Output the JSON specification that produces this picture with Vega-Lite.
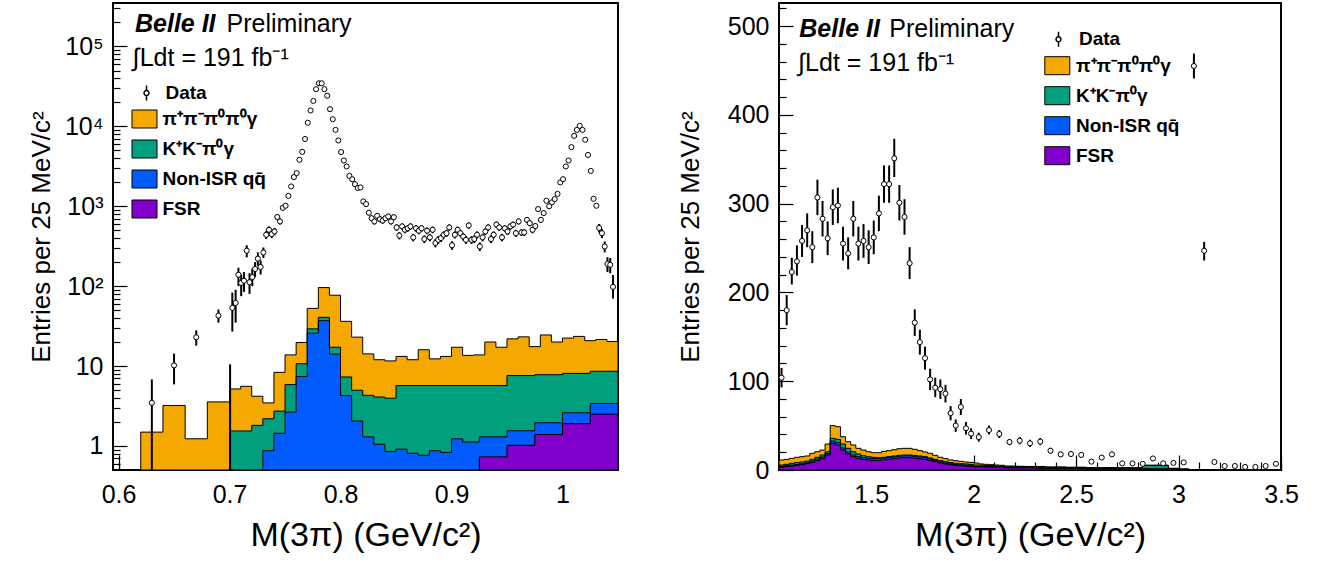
{
"$schema":"https://vega.github.io/schema/vega-lite/v6.json",
"background":"white",
"padding":{"left":27,"right":0,"top":2,"bottom":0},
"spacing":57,
"config":{
 "font":"Liberation Sans",
 "view":{"stroke":"black","strokeWidth":2},
 "axis":{"domain":false,"grid":false,"tickColor":"black","tickWidth":1.2,"labelColor":"black","titleColor":"black","labelFont":"Liberation Sans","titleFont":"Liberation Sans","labelFontSize":25,"titleFontWeight":"normal","labelFlush":false,"labelOverlap":false},
 "legend":{"labelFont":"Liberation Sans","labelColor":"black","labelFontSize":19,"labelFontWeight":"bold","padding":0,"rowPadding":7,"direction":"vertical","orient":"none"}
},
"datasets":{
 "leftStack":[
  {"comp":"pp","x":0.62,"y":1.49},{"comp":"pp","x":0.64,"y":3.21},{"comp":"pp","x":0.66,"y":1.23},{"comp":"pp","x":0.68,"y":3.56},{"comp":"pp","x":0.70,"y":5.17},{"comp":"pp","x":0.71,"y":5.58},{"comp":"pp","x":0.72,"y":4.19},{"comp":"pp","x":0.73,"y":3.46},{"comp":"pp","x":0.74,"y":8.34},{"comp":"pp","x":0.75,"y":13.8},{"comp":"pp","x":0.76,"y":19.7},{"comp":"pp","x":0.77,"y":52.7},{"comp":"pp","x":0.78,"y":96},{"comp":"pp","x":0.79,"y":77},{"comp":"pp","x":0.80,"y":36.3},{"comp":"pp","x":0.81,"y":23},{"comp":"pp","x":0.82,"y":14.2},{"comp":"pp","x":0.83,"y":12.0},{"comp":"pp","x":0.84,"y":11.6},{"comp":"pp","x":0.85,"y":13.2},{"comp":"pp","x":0.86,"y":12.0},{"comp":"pp","x":0.87,"y":16},{"comp":"pp","x":0.88,"y":12.3},{"comp":"pp","x":0.89,"y":13.2},{"comp":"pp","x":0.90,"y":17.2},{"comp":"pp","x":0.91,"y":13.6},{"comp":"pp","x":0.92,"y":13.8},{"comp":"pp","x":0.93,"y":20},{"comp":"pp","x":0.94,"y":17.2},{"comp":"pp","x":0.95,"y":21.9},{"comp":"pp","x":0.96,"y":23.2},{"comp":"pp","x":0.97,"y":17.5},{"comp":"pp","x":0.98,"y":24.5},{"comp":"pp","x":0.99,"y":20},{"comp":"pp","x":1.00,"y":22.4},{"comp":"pp","x":1.01,"y":23.5},{"comp":"pp","x":1.02,"y":20.8},{"comp":"pp","x":1.03,"y":21.5},{"comp":"pp","x":1.04,"y":20.3},{"comp":"pp","x":1.05,"y":20.3},
  {"comp":"kk","x":0.70,"y":1.54},{"comp":"kk","x":0.72,"y":1.81},{"comp":"kk","x":0.73,"y":2.19},{"comp":"kk","x":0.74,"y":2.73},{"comp":"kk","x":0.75,"y":5.86},{"comp":"kk","x":0.76,"y":10.7},{"comp":"kk","x":0.77,"y":29.2},{"comp":"kk","x":0.78,"y":40.7},{"comp":"kk","x":0.79,"y":17.2},{"comp":"kk","x":0.80,"y":7.3},{"comp":"kk","x":0.81,"y":4.98},{"comp":"kk","x":0.82,"y":4.3},{"comp":"kk","x":0.83,"y":4.1},{"comp":"kk","x":0.84,"y":3.96},{"comp":"kk","x":0.85,"y":5.7},{"comp":"kk","x":0.95,"y":7.6},{"comp":"kk","x":0.975,"y":7.8},{"comp":"kk","x":1.0,"y":8.1},{"comp":"kk","x":1.025,"y":8.6},{"comp":"kk","x":1.05,"y":8.6},
  {"comp":"qq","x":0.73,"y":0.87},{"comp":"qq","x":0.74,"y":1.44},{"comp":"qq","x":0.75,"y":2.65},{"comp":"qq","x":0.76,"y":7.4},{"comp":"qq","x":0.77,"y":25.8},{"comp":"qq","x":0.78,"y":37},{"comp":"qq","x":0.79,"y":14.1},{"comp":"qq","x":0.80,"y":4.27},{"comp":"qq","x":0.81,"y":2.05},{"comp":"qq","x":0.82,"y":1.3},{"comp":"qq","x":0.83,"y":1.05},{"comp":"qq","x":0.84,"y":0.85},{"comp":"qq","x":0.85,"y":0.91},{"comp":"qq","x":0.86,"y":0.81},{"comp":"qq","x":0.87,"y":0.765},{"comp":"qq","x":0.88,"y":0.87},{"comp":"qq","x":0.89,"y":0.83},{"comp":"qq","x":0.90,"y":1.23},{"comp":"qq","x":0.91,"y":1.12},{"comp":"qq","x":0.925,"y":1.3},{"comp":"qq","x":0.95,"y":1.55},{"comp":"qq","x":0.975,"y":1.95},{"comp":"qq","x":1.0,"y":2.6},{"comp":"qq","x":1.025,"y":3.4},{"comp":"qq","x":1.05,"y":3.4},
  {"comp":"fsr","x":0.925,"y":0.73},{"comp":"fsr","x":0.95,"y":1.02},{"comp":"fsr","x":0.975,"y":1.39},{"comp":"fsr","x":1.0,"y":1.9},{"comp":"fsr","x":1.025,"y":2.5},{"comp":"fsr","x":1.05,"y":2.5}
 ],
 "leftData":[
  {"x":0.630,"y":3.47,"lo":0.5,"hi":6.8},{"x":0.650,"y":10.2,"lo":5.9,"hi":14.3},{"x":0.670,"y":22.9,"lo":18,"hi":28},{"x":0.690,"y":42.8,"lo":35,"hi":51},{"x":0.7005,"y":0.3,"lo":0.1,"hi":10.5},{"x":0.7025,"y":53.5,"lo":27,"hi":83},{"x":0.7055,"y":61.7,"lo":35,"hi":90},{"x":0.708,"y":139,"lo":100,"hi":170},{"x":0.7105,"y":110,"lo":75,"hi":140},{"x":0.713,"y":117,"lo":85,"hi":150},{"x":0.7155,"y":278,"lo":230,"hi":325},{"x":0.718,"y":112,"lo":80,"hi":145},{"x":0.7205,"y":130,"lo":100,"hi":165},{"x":0.723,"y":164,"lo":130,"hi":200},{"x":0.7255,"y":221,"lo":180,"hi":265},{"x":0.728,"y":174,"lo":140,"hi":210},{"x":0.7305,"y":264,"lo":225,"hi":305},{"x":0.733,"y":440,"lo":390,"hi":490},{"x":0.7355,"y":508,"lo":455,"hi":560},{"x":0.738,"y":448,"lo":400,"hi":500},{"x":0.7405,"y":484,"lo":435,"hi":535},{"x":0.743,"y":733,"lo":670,"hi":795},{"x":0.7455,"y":646,"lo":590,"hi":705},{"x":0.748,"y":955,"lo":890,"hi":1020},{"x":0.7505,"y":1015,"lo":950,"hi":1080},
  {"x":0.753,"y":1350,"lo":1280,"hi":1420},{"x":0.7555,"y":1770,"lo":1690,"hi":1850},{"x":0.758,"y":2320,"lo":2230,"hi":2410},{"x":0.7605,"y":2600,"lo":2500,"hi":2700},{"x":0.763,"y":3820,"lo":3700,"hi":3940},{"x":0.7655,"y":4800,"lo":4660,"hi":4940},{"x":0.768,"y":6950,"lo":6780,"hi":7120},{"x":0.7705,"y":11100,"lo":10900,"hi":11300},{"x":0.773,"y":15800,"lo":15550,"hi":16050},{"x":0.7755,"y":20800,"lo":20500,"hi":21100},{"x":0.778,"y":29200,"lo":28850,"hi":29550},{"x":0.7805,"y":34600,"lo":34200,"hi":35000},{"x":0.783,"y":34600,"lo":34200,"hi":35000},{"x":0.7855,"y":29200,"lo":28850,"hi":29550},{"x":0.788,"y":24200,"lo":23850,"hi":24550},{"x":0.7905,"y":16400,"lo":16150,"hi":16650},{"x":0.793,"y":12300,"lo":12080,"hi":12520},{"x":0.7955,"y":9040,"lo":8850,"hi":9230},{"x":0.798,"y":6660,"lo":6490,"hi":6830},{"x":0.8005,"y":4770,"lo":4630,"hi":4910},{"x":0.803,"y":3740,"lo":3620,"hi":3860},{"x":0.8055,"y":3150,"lo":3040,"hi":3260},{"x":0.808,"y":2400,"lo":2300,"hi":2500},{"x":0.8105,"y":2180,"lo":2090,"hi":2270},{"x":0.813,"y":1890,"lo":1800,"hi":1980},{"x":0.8155,"y":1690,"lo":1610,"hi":1770},{"x":0.818,"y":1720,"lo":1640,"hi":1800},{"x":0.8205,"y":1150,"lo":1080,"hi":1220},{"x":0.823,"y":1065,"lo":1000,"hi":1130},
  {"x":0.8255,"y":830,"lo":770,"hi":890},{"x":0.828,"y":708,"lo":650,"hi":766},{"x":0.8305,"y":646,"lo":590,"hi":702},{"x":0.833,"y":760,"lo":700,"hi":820},{"x":0.8355,"y":690,"lo":632,"hi":748},{"x":0.838,"y":662,"lo":605,"hi":719},{"x":0.8405,"y":708,"lo":650,"hi":766},{"x":0.843,"y":745,"lo":686,"hi":804},{"x":0.8455,"y":646,"lo":590,"hi":702},{"x":0.848,"y":730,"lo":671,"hi":789},{"x":0.8505,"y":543,"lo":492,"hi":594},{"x":0.853,"y":430,"lo":385,"hi":475},{"x":0.8555,"y":560,"lo":508,"hi":612},{"x":0.858,"y":508,"lo":459,"hi":557},{"x":0.8605,"y":530,"lo":480,"hi":580},{"x":0.863,"y":560,"lo":508,"hi":612},{"x":0.8655,"y":408,"lo":364,"hi":452},{"x":0.868,"y":530,"lo":480,"hi":580},{"x":0.8705,"y":494,"lo":446,"hi":542},{"x":0.873,"y":530,"lo":480,"hi":580},{"x":0.8755,"y":389,"lo":346,"hi":432},{"x":0.878,"y":494,"lo":446,"hi":542},{"x":0.8805,"y":408,"lo":364,"hi":452},{"x":0.883,"y":508,"lo":459,"hi":557},{"x":0.8855,"y":347,"lo":306,"hi":388},{"x":0.888,"y":380,"lo":338,"hi":422},{"x":0.8905,"y":400,"lo":357,"hi":443},{"x":0.893,"y":440,"lo":395,"hi":485},{"x":0.8955,"y":460,"lo":414,"hi":506},{"x":0.898,"y":543,"lo":492,"hi":594},{"x":0.9005,"y":325,"lo":285,"hi":365},{"x":0.903,"y":440,"lo":395,"hi":485},{"x":0.9055,"y":508,"lo":459,"hi":557},{"x":0.908,"y":460,"lo":414,"hi":506},{"x":0.9105,"y":418,"lo":374,"hi":462},{"x":0.913,"y":380,"lo":338,"hi":422},{"x":0.9155,"y":575,"lo":523,"hi":627},{"x":0.918,"y":380,"lo":338,"hi":422},{"x":0.9205,"y":389,"lo":346,"hi":432},{"x":0.923,"y":440,"lo":395,"hi":485},{"x":0.9255,"y":314,"lo":275,"hi":353},{"x":0.928,"y":408,"lo":364,"hi":452},{"x":0.9305,"y":484,"lo":437,"hi":531},{"x":0.933,"y":543,"lo":492,"hi":594},{"x":0.9355,"y":389,"lo":346,"hi":432},{"x":0.938,"y":440,"lo":395,"hi":485},{"x":0.9405,"y":590,"lo":537,"hi":643},{"x":0.943,"y":543,"lo":492,"hi":594},{"x":0.9455,"y":408,"lo":364,"hi":452},{"x":0.948,"y":530,"lo":480,"hi":580},{"x":0.9505,"y":484,"lo":437,"hi":531},{"x":0.953,"y":560,"lo":508,"hi":612},{"x":0.9555,"y":590,"lo":537,"hi":643},{"x":0.958,"y":460,"lo":414,"hi":506},{"x":0.9605,"y":646,"lo":590,"hi":702},{"x":0.963,"y":470,"lo":424,"hi":516},{"x":0.9655,"y":470,"lo":424,"hi":516},{"x":0.968,"y":676,"lo":619,"hi":733},{"x":0.9705,"y":615,"lo":561,"hi":669},{"x":0.973,"y":508,"lo":459,"hi":557},{"x":0.9755,"y":565,"lo":513,"hi":617},{"x":0.978,"y":922,"lo":855,"hi":989},{"x":0.9805,"y":676,"lo":619,"hi":733},{"x":0.983,"y":822,"lo":760,"hi":884},
  {"x":0.9855,"y":1170,"lo":1100,"hi":1240},{"x":0.988,"y":1000,"lo":935,"hi":1065},{"x":0.9905,"y":1120,"lo":1050,"hi":1190},{"x":0.993,"y":1230,"lo":1160,"hi":1300},{"x":0.9955,"y":1430,"lo":1355,"hi":1505},{"x":0.998,"y":1990,"lo":1900,"hi":2080},{"x":1.0005,"y":2180,"lo":2090,"hi":2270},{"x":1.003,"y":3150,"lo":3040,"hi":3260},{"x":1.0055,"y":3740,"lo":3620,"hi":3860},{"x":1.008,"y":5500,"lo":5350,"hi":5650},{"x":1.0105,"y":7610,"lo":7430,"hi":7790},{"x":1.013,"y":9040,"lo":8850,"hi":9230},{"x":1.0155,"y":10150,"lo":9950,"hi":10350},{"x":1.018,"y":9040,"lo":8850,"hi":9230},{"x":1.0205,"y":6800,"lo":6630,"hi":6970},{"x":1.023,"y":4390,"lo":4260,"hi":4520},{"x":1.0255,"y":2770,"lo":2670,"hi":2870},{"x":1.028,"y":1240,"lo":1170,"hi":1310},{"x":1.0305,"y":1015,"lo":950,"hi":1080},{"x":1.033,"y":536,"lo":470,"hi":600},{"x":1.0355,"y":460,"lo":400,"hi":520},{"x":1.038,"y":314,"lo":265,"hi":363},{"x":1.0405,"y":190,"lo":150,"hi":230},{"x":1.043,"y":185,"lo":145,"hi":225},{"x":1.0455,"y":98,"lo":70,"hi":138}
 ],
 "rightStack":[
  {"comp":"pp","x":1.05,"y":11.3},{"comp":"pp","x":1.075,"y":12},{"comp":"pp","x":1.1,"y":13.1},{"comp":"pp","x":1.125,"y":14.3},{"comp":"pp","x":1.15,"y":15},{"comp":"pp","x":1.175,"y":15.8},{"comp":"pp","x":1.2,"y":18.8},{"comp":"pp","x":1.225,"y":20.6},{"comp":"pp","x":1.25,"y":22.5},{"comp":"pp","x":1.275,"y":29.3},{"comp":"pp","x":1.3,"y":50},{"comp":"pp","x":1.325,"y":48.8},{"comp":"pp","x":1.35,"y":37.5},{"comp":"pp","x":1.375,"y":31.9},{"comp":"pp","x":1.4,"y":28.2},{"comp":"pp","x":1.425,"y":24.4},{"comp":"pp","x":1.45,"y":22.5},{"comp":"pp","x":1.475,"y":20.6},{"comp":"pp","x":1.5,"y":19.5},{"comp":"pp","x":1.525,"y":19.5},{"comp":"pp","x":1.55,"y":21},{"comp":"pp","x":1.575,"y":21.8},{"comp":"pp","x":1.6,"y":22.9},{"comp":"pp","x":1.625,"y":24},{"comp":"pp","x":1.65,"y":24.4},{"comp":"pp","x":1.675,"y":24.4},{"comp":"pp","x":1.7,"y":23.3},{"comp":"pp","x":1.725,"y":21.8},{"comp":"pp","x":1.75,"y":20.3},{"comp":"pp","x":1.775,"y":18.8},{"comp":"pp","x":1.8,"y":16.5},{"comp":"pp","x":1.825,"y":14.3},{"comp":"pp","x":1.85,"y":12.8},{"comp":"pp","x":1.875,"y":11.3},{"comp":"pp","x":1.9,"y":10.5},{"comp":"pp","x":1.925,"y":9.8},{"comp":"pp","x":1.95,"y":9},{"comp":"pp","x":1.975,"y":8.6},{"comp":"pp","x":2.0,"y":7.9},{"comp":"pp","x":2.025,"y":6.8},{"comp":"pp","x":2.05,"y":6.4},{"comp":"pp","x":2.075,"y":6},{"comp":"pp","x":2.1,"y":5.6},{"comp":"pp","x":2.125,"y":5.3},{"comp":"pp","x":2.15,"y":4.5},{"comp":"pp","x":2.2,"y":4.2},{"comp":"pp","x":2.25,"y":4},{"comp":"pp","x":2.35,"y":3.5},{"comp":"pp","x":2.45,"y":3},{"comp":"pp","x":2.55,"y":2.6},{"comp":"pp","x":2.7,"y":2.3},{"comp":"pp","x":2.825,"y":5.5},{"comp":"pp","x":2.95,"y":2},{"comp":"pp","x":3.0,"y":1.2},{"comp":"pp","x":3.05,"y":0},
  {"comp":"kk","x":1.05,"y":5.6},{"comp":"kk","x":1.075,"y":6.4},{"comp":"kk","x":1.1,"y":7.5},{"comp":"kk","x":1.125,"y":8.3},{"comp":"kk","x":1.15,"y":9},{"comp":"kk","x":1.175,"y":10.1},{"comp":"kk","x":1.2,"y":12},{"comp":"kk","x":1.225,"y":14.3},{"comp":"kk","x":1.25,"y":16.9},{"comp":"kk","x":1.275,"y":20.6},{"comp":"kk","x":1.3,"y":35.6},{"comp":"kk","x":1.325,"y":34.5},{"comp":"kk","x":1.35,"y":29.3},{"comp":"kk","x":1.375,"y":24.4},{"comp":"kk","x":1.4,"y":20.6},{"comp":"kk","x":1.425,"y":18},{"comp":"kk","x":1.45,"y":16.1},{"comp":"kk","x":1.475,"y":15},{"comp":"kk","x":1.5,"y":14.3},{"comp":"kk","x":1.525,"y":13.9},{"comp":"kk","x":1.55,"y":14.3},{"comp":"kk","x":1.575,"y":15},{"comp":"kk","x":1.6,"y":15.8},{"comp":"kk","x":1.625,"y":16.5},{"comp":"kk","x":1.65,"y":16.9},{"comp":"kk","x":1.675,"y":16.9},{"comp":"kk","x":1.7,"y":16.5},{"comp":"kk","x":1.725,"y":15.8},{"comp":"kk","x":1.75,"y":15},{"comp":"kk","x":1.775,"y":13.5},{"comp":"kk","x":1.8,"y":12},{"comp":"kk","x":1.825,"y":10.5},{"comp":"kk","x":1.85,"y":9.4},{"comp":"kk","x":1.875,"y":8.3},{"comp":"kk","x":1.9,"y":7.5},{"comp":"kk","x":1.925,"y":7.1},{"comp":"kk","x":1.95,"y":6.8},{"comp":"kk","x":1.975,"y":6.4},{"comp":"kk","x":2.0,"y":5.6},{"comp":"kk","x":2.05,"y":5},{"comp":"kk","x":2.1,"y":4.5},{"comp":"kk","x":2.15,"y":3.8},{"comp":"kk","x":2.25,"y":3.4},{"comp":"kk","x":2.35,"y":3},{"comp":"kk","x":2.55,"y":2.6},{"comp":"kk","x":2.825,"y":5},{"comp":"kk","x":2.95,"y":1.5},{"comp":"kk","x":3.0,"y":1},{"comp":"kk","x":3.05,"y":0},
  {"comp":"qq","x":1.05,"y":4},{"comp":"qq","x":1.075,"y":4.8},{"comp":"qq","x":1.1,"y":5.5},{"comp":"qq","x":1.125,"y":6.3},{"comp":"qq","x":1.15,"y":7},{"comp":"qq","x":1.175,"y":8.1},{"comp":"qq","x":1.2,"y":10.2},{"comp":"qq","x":1.225,"y":12.3},{"comp":"qq","x":1.25,"y":14.6},{"comp":"qq","x":1.275,"y":18.7},{"comp":"qq","x":1.3,"y":32.5},{"comp":"qq","x":1.325,"y":30.8},{"comp":"qq","x":1.35,"y":24.8},{"comp":"qq","x":1.375,"y":20.2},{"comp":"qq","x":1.4,"y":17},{"comp":"qq","x":1.425,"y":15},{"comp":"qq","x":1.45,"y":14},{"comp":"qq","x":1.475,"y":13.2},{"comp":"qq","x":1.5,"y":12.8},{"comp":"qq","x":1.525,"y":12.8},{"comp":"qq","x":1.55,"y":13.3},{"comp":"qq","x":1.575,"y":14},{"comp":"qq","x":1.6,"y":14.8},{"comp":"qq","x":1.625,"y":15.5},{"comp":"qq","x":1.65,"y":15.9},{"comp":"qq","x":1.675,"y":15.9},{"comp":"qq","x":1.7,"y":15.5},{"comp":"qq","x":1.725,"y":14.8},{"comp":"qq","x":1.75,"y":14},{"comp":"qq","x":1.775,"y":12.6},{"comp":"qq","x":1.8,"y":10.9},{"comp":"qq","x":1.825,"y":9.1},{"comp":"qq","x":1.85,"y":7.9},{"comp":"qq","x":1.875,"y":7},{"comp":"qq","x":1.9,"y":6.3},{"comp":"qq","x":1.925,"y":5.8},{"comp":"qq","x":1.95,"y":5.3},{"comp":"qq","x":1.975,"y":4.9},{"comp":"qq","x":2.0,"y":4.2},{"comp":"qq","x":2.05,"y":3.9},{"comp":"qq","x":2.15,"y":3},{"comp":"qq","x":2.3,"y":2.5},{"comp":"qq","x":2.55,"y":1.8},{"comp":"qq","x":2.8,"y":1.5},{"comp":"qq","x":3.0,"y":0.8},{"comp":"qq","x":3.05,"y":0},
  {"comp":"fsr","x":1.05,"y":3},{"comp":"fsr","x":1.075,"y":3.8},{"comp":"fsr","x":1.1,"y":4.5},{"comp":"fsr","x":1.125,"y":5.3},{"comp":"fsr","x":1.15,"y":6},{"comp":"fsr","x":1.175,"y":7.1},{"comp":"fsr","x":1.2,"y":8.6},{"comp":"fsr","x":1.225,"y":10.5},{"comp":"fsr","x":1.25,"y":12.8},{"comp":"fsr","x":1.275,"y":16.9},{"comp":"fsr","x":1.3,"y":30},{"comp":"fsr","x":1.325,"y":28.2},{"comp":"fsr","x":1.35,"y":22.5},{"comp":"fsr","x":1.375,"y":18},{"comp":"fsr","x":1.4,"y":15},{"comp":"fsr","x":1.425,"y":13.1},{"comp":"fsr","x":1.45,"y":12},{"comp":"fsr","x":1.475,"y":11.3},{"comp":"fsr","x":1.5,"y":10.9},{"comp":"fsr","x":1.525,"y":10.9},{"comp":"fsr","x":1.55,"y":11.3},{"comp":"fsr","x":1.575,"y":12},{"comp":"fsr","x":1.6,"y":12.8},{"comp":"fsr","x":1.625,"y":13.5},{"comp":"fsr","x":1.65,"y":13.9},{"comp":"fsr","x":1.675,"y":13.9},{"comp":"fsr","x":1.7,"y":13.5},{"comp":"fsr","x":1.725,"y":12.8},{"comp":"fsr","x":1.75,"y":12},{"comp":"fsr","x":1.775,"y":10.9},{"comp":"fsr","x":1.8,"y":9.4},{"comp":"fsr","x":1.825,"y":7.9},{"comp":"fsr","x":1.85,"y":6.8},{"comp":"fsr","x":1.875,"y":6},{"comp":"fsr","x":1.9,"y":5.3},{"comp":"fsr","x":1.925,"y":4.9},{"comp":"fsr","x":1.95,"y":4.5},{"comp":"fsr","x":1.975,"y":4.1},{"comp":"fsr","x":2.0,"y":3.4},{"comp":"fsr","x":2.05,"y":3.2},{"comp":"fsr","x":2.15,"y":2.3},{"comp":"fsr","x":2.3,"y":1.8},{"comp":"fsr","x":2.55,"y":1.1},{"comp":"fsr","x":2.8,"y":1},{"comp":"fsr","x":3.0,"y":0.5},{"comp":"fsr","x":3.05,"y":0}
 ],
 "rightData":[
  {"x":1.0625,"y":104,"lo":93,"hi":115},{"x":1.0875,"y":180,"lo":163,"hi":197},{"x":1.1125,"y":223,"lo":209,"hi":239},{"x":1.1375,"y":235,"lo":219,"hi":253},{"x":1.1625,"y":258,"lo":240,"hi":276},{"x":1.1875,"y":270,"lo":251,"hi":289},{"x":1.2125,"y":251,"lo":233,"hi":269},{"x":1.2375,"y":307,"lo":287,"hi":327},{"x":1.2625,"y":283,"lo":263,"hi":303},{"x":1.2875,"y":261,"lo":242,"hi":280},{"x":1.3125,"y":296,"lo":276,"hi":316},{"x":1.3375,"y":298,"lo":278,"hi":318},{"x":1.3625,"y":255,"lo":236,"hi":274},{"x":1.3875,"y":244,"lo":226,"hi":262},{"x":1.4125,"y":283,"lo":263,"hi":303},{"x":1.4375,"y":255,"lo":236,"hi":274},{"x":1.4625,"y":258,"lo":239,"hi":277},{"x":1.4875,"y":251,"lo":232,"hi":270},{"x":1.5125,"y":262,"lo":243,"hi":281},{"x":1.5375,"y":289,"lo":269,"hi":309},{"x":1.5625,"y":322,"lo":301,"hi":343},{"x":1.5875,"y":322,"lo":301,"hi":343},{"x":1.6125,"y":351,"lo":330,"hi":373},{"x":1.6375,"y":301,"lo":281,"hi":321},{"x":1.6625,"y":285,"lo":265,"hi":305},{"x":1.6875,"y":233,"lo":215,"hi":251},{"x":1.7125,"y":166,"lo":151,"hi":181},{"x":1.7375,"y":144,"lo":130,"hi":158},{"x":1.7625,"y":126,"lo":113,"hi":139},{"x":1.7875,"y":102,"lo":90,"hi":114},{"x":1.8125,"y":92.7,"lo":82,"hi":104},{"x":1.8375,"y":91,"lo":80,"hi":102},{"x":1.8625,"y":86,"lo":76,"hi":96},{"x":1.8875,"y":64,"lo":56,"hi":72},{"x":1.9125,"y":50,"lo":43,"hi":57},{"x":1.9375,"y":71,"lo":62,"hi":80},{"x":1.9625,"y":47,"lo":40,"hi":54},{"x":1.9875,"y":41,"lo":35,"hi":47},
  {"x":2.025,"y":37,"lo":32,"hi":42},{"x":2.075,"y":45,"lo":40,"hi":50},{"x":2.125,"y":40.6,"lo":36,"hi":45},{"x":2.175,"y":31.5,"lo":28,"hi":35},{"x":2.225,"y":33,"lo":29,"hi":37},{"x":2.275,"y":30,"lo":26,"hi":34},{"x":2.325,"y":32,"lo":28,"hi":36},{"x":2.375,"y":21.7,"lo":18.5,"hi":25},{"x":2.425,"y":17.6,"lo":14.6,"hi":20.6},{"x":2.475,"y":18,"lo":15,"hi":21},{"x":2.525,"y":17,"lo":14,"hi":20},{"x":2.575,"y":9.4,"lo":7,"hi":11.8},{"x":2.625,"y":14,"lo":11.3,"hi":16.7},{"x":2.675,"y":17.6,"lo":14.6,"hi":20.6},{"x":2.725,"y":7.5,"lo":5.3,"hi":9.7},{"x":2.775,"y":7.5,"lo":5.3,"hi":9.7},{"x":2.825,"y":7,"lo":4.9,"hi":9.1},{"x":2.875,"y":13,"lo":10.4,"hi":15.6},{"x":2.925,"y":7.5,"lo":5.3,"hi":9.7},{"x":2.975,"y":8,"lo":5.8,"hi":10.2},{"x":3.025,"y":8.6,"lo":6.3,"hi":10.9},{"x":3.075,"y":455,"lo":441,"hi":469},{"x":3.125,"y":247,"lo":236,"hi":257},{"x":3.175,"y":9,"lo":6.7,"hi":11.3},{"x":3.225,"y":4.5,"lo":2.8,"hi":6.2},{"x":3.275,"y":4.5,"lo":2.8,"hi":6.2},{"x":3.325,"y":3.5,"lo":2,"hi":5},{"x":3.375,"y":3.5,"lo":2,"hi":5},{"x":3.425,"y":4.5,"lo":2.8,"hi":6.2},{"x":3.475,"y":7,"lo":4.9,"hi":9.1}
 ]
},
"resolve":{"scale":{"fill":"independent","stroke":"independent"},"legend":{"fill":"independent","stroke":"independent"}},
"hconcat":[
 {
  "width":505,"height":467,
  "resolve":{"axis":{"x":"independent","y":"independent"}},
  "layer":[
   {"data":{"name":"leftStack"},"transform":[{"filter":"datum.comp === 'pp'"}],
    "mark":{"type":"area","interpolate":"step-after","stroke":"black","strokeWidth":1,"clip":true},
    "encoding":{
     "x":{"field":"x","type":"quantitative","scale":{"domain":[0.595,1.05],"nice":false,"zero":false},
      "axis":{"orient":"bottom","values":[0.6,0.7,0.8,0.9,1.0],"labelExpr":"datum.value > 0.99 ? '1' : format(datum.value, '.1f')","tickSize":-15,"labelPadding":27,"title":"M(3π) (GeV/c²)","titleFontSize":34,"titlePadding":11}},
     "y":{"field":"y","type":"quantitative","scale":{"type":"log","domain":[0.5,350000],"nice":false},
      "axis":{"orient":"left","values":[1,10,100,1000,10000,100000],"labelExpr":"datum.value < 5 ? '1' : datum.value < 50 ? '10' : datum.value < 500 ? '10²' : datum.value < 5000 ? '10³' : datum.value < 50000 ? '10⁴' : '10⁵'","tickSize":-14,"labelPadding":24,"title":"Entries per 25 MeV/c²","titleFontSize":26,"titlePadding":10}},
     "y2":{"datum":0.5},
     "fill":{"field":"comp","type":"nominal","scale":{"domain":["pp","kk","qq","fsr"],"range":["#F5A800","#00A07E","#005CFF","#8200CC"]},
      "legend":{"orient":"none","legendX":22,"legendY":106.5,"title":null,"symbolType":"M-1.39,-1L1.39,-1L1.39,1L-1.39,1Z","symbolSize":324,"symbolStrokeColor":"black","symbolStrokeWidth":1,"symbolOpacity":1,"labelOffset":8.5,"labelExpr":"datum.value === 'pp' ? 'π⁺π⁻π⁰π⁰γ' : datum.value === 'kk' ? 'K⁺K⁻π⁰γ' : datum.value === 'qq' ? 'Non-ISR qq̄' : 'FSR'"}}
    }},
   {"data":{"name":"leftStack"},"transform":[{"filter":"datum.comp === 'kk'"}],
    "mark":{"type":"area","interpolate":"step-after","stroke":"black","strokeWidth":1,"clip":true},
    "encoding":{"x":{"field":"x","type":"quantitative","axis":null},"y":{"field":"y","type":"quantitative","axis":null},"y2":{"datum":0.5},
     "fill":{"field":"comp","type":"nominal","scale":{"domain":["pp","kk","qq","fsr"],"range":["#F5A800","#00A07E","#005CFF","#8200CC"]},"legend":null}}},
   {"data":{"name":"leftStack"},"transform":[{"filter":"datum.comp === 'qq'"}],
    "mark":{"type":"area","interpolate":"step-after","stroke":"black","strokeWidth":1,"clip":true},
    "encoding":{"x":{"field":"x","type":"quantitative","axis":null},"y":{"field":"y","type":"quantitative","axis":null},"y2":{"datum":0.5},
     "fill":{"field":"comp","type":"nominal","scale":{"domain":["pp","kk","qq","fsr"],"range":["#F5A800","#00A07E","#005CFF","#8200CC"]},"legend":null}}},
   {"data":{"name":"leftStack"},"transform":[{"filter":"datum.comp === 'fsr'"}],
    "mark":{"type":"area","interpolate":"step-after","stroke":"black","strokeWidth":1,"clip":true},
    "encoding":{"x":{"field":"x","type":"quantitative","axis":null},"y":{"field":"y","type":"quantitative","axis":null},"y2":{"datum":0.5},
     "fill":{"field":"comp","type":"nominal","scale":{"domain":["pp","kk","qq","fsr"],"range":["#F5A800","#00A07E","#005CFF","#8200CC"]},"legend":null}}},
   {"data":{"name":"leftData"},
    "mark":{"type":"rule","strokeWidth":2,"color":"black","clip":true},
    "encoding":{
     "x":{"field":"x","type":"quantitative","axis":{"orient":"bottom","values":[0.6,0.62,0.64,0.66,0.68,0.7,0.72,0.74,0.76,0.78,0.8,0.82,0.84,0.86,0.88,0.9,0.92,0.94,0.96,0.98,1.0,1.02,1.04],"labels":false,"tickSize":-8,"title":null}},
     "y":{"field":"lo","type":"quantitative","axis":{"orient":"left","values":[0.6,0.7,0.8,0.9,2,3,4,5,6,7,8,9,20,30,40,50,60,70,80,90,200,300,400,500,600,700,800,900,2000,3000,4000,5000,6000,7000,8000,9000,20000,30000,40000,50000,60000,70000,80000,90000,200000,300000],"labels":false,"tickSize":-7,"title":null}},
     "y2":{"field":"hi"}}},
   {"data":{"name":"leftData"},
    "mark":{"type":"point","shape":"circle","filled":false,"fill":"white","fillOpacity":1,"size":26,"strokeWidth":1,"clip":true},
    "encoding":{"x":{"field":"x","type":"quantitative","axis":null},"y":{"field":"y","type":"quantitative","axis":null},
     "stroke":{"datum":"Data","type":"nominal","scale":{"range":["black"]},
      "legend":{"orient":"none","legendX":24,"legendY":80.5,"title":null,"symbolType":"M0,-1L0,-0.36M0,0.36L0,1M0.33,0A0.33,0.33,0,1,1,-0.33,0A0.33,0.33,0,1,1,0.33,0Z","symbolSize":225,"symbolFillColor":"white","symbolStrokeWidth":1.5,"labelOffset":9.5}}}},
   {"data":{"values":[{}]},"mark":{"type":"text","text":"Belle II","fontSize":25,"fontWeight":"bold","fontStyle":"italic","align":"left","baseline":"alphabetic","color":"black"},
    "encoding":{"x":{"datum":0.6148,"type":"quantitative","axis":null},"y":{"datum":149600,"type":"quantitative","axis":null}}},
   {"data":{"values":[{}]},"mark":{"type":"text","text":"Preliminary","fontSize":25,"align":"left","baseline":"alphabetic","color":"black"},
    "encoding":{"x":{"datum":0.6973,"type":"quantitative","axis":null},"y":{"datum":149600,"type":"quantitative","axis":null}}},
   {"data":{"values":[{}]},"mark":{"type":"text","text":"∫Ldt = 191 fb⁻¹","fontSize":25,"align":"left","baseline":"alphabetic","color":"black"},
    "encoding":{"x":{"datum":0.6129,"type":"quantitative","axis":null},"y":{"datum":57000,"type":"quantitative","axis":null}}}
  ]
 },
 {
  "width":502,"height":467,
  "resolve":{"axis":{"x":"independent","y":"independent"}},
  "layer":[
   {"data":{"name":"rightStack"},"transform":[{"filter":"datum.comp === 'pp'"}],
    "mark":{"type":"area","interpolate":"step-after","stroke":"black","strokeWidth":1,"clip":true},
    "encoding":{
     "x":{"field":"x","type":"quantitative","scale":{"domain":[1.05,3.5],"nice":false,"zero":false},
      "axis":{"orient":"bottom","values":[1.5,2,2.5,3,3.5],"labelExpr":"datum.value % 1 ? format(datum.value, '.1f') : format(datum.value, 'd')","tickSize":-15,"labelPadding":27,"title":"M(3π) (GeV/c²)","titleFontSize":34,"titlePadding":11}},
     "y":{"field":"y","type":"quantitative","scale":{"domain":[0,526],"nice":false},
      "axis":{"orient":"left","values":[0,100,200,300,400,500],"tickSize":-14,"labelPadding":24,"title":"Entries per 25 MeV/c²","titleFontSize":26,"titlePadding":24}},
     "y2":{"datum":0},
     "fill":{"field":"comp","type":"nominal","scale":{"domain":["pp","kk","qq","fsr"],"range":["#F5A800","#00A07E","#005CFF","#8200CC"]},
      "legend":{"orient":"none","legendX":268.8,"legendY":53.2,"title":null,"symbolType":"M-1.39,-1L1.39,-1L1.39,1L-1.39,1Z","symbolSize":324,"symbolStrokeColor":"black","symbolStrokeWidth":1,"symbolOpacity":1,"labelOffset":9.2,"labelExpr":"datum.value === 'pp' ? 'π⁺π⁻π⁰π⁰γ' : datum.value === 'kk' ? 'K⁺K⁻π⁰γ' : datum.value === 'qq' ? 'Non-ISR qq̄' : 'FSR'"}}
    }},
   {"data":{"name":"rightStack"},"transform":[{"filter":"datum.comp === 'kk'"}],
    "mark":{"type":"area","interpolate":"step-after","stroke":"black","strokeWidth":1,"clip":true},
    "encoding":{"x":{"field":"x","type":"quantitative","axis":null},"y":{"field":"y","type":"quantitative","axis":null},"y2":{"datum":0},
     "fill":{"field":"comp","type":"nominal","scale":{"domain":["pp","kk","qq","fsr"],"range":["#F5A800","#00A07E","#005CFF","#8200CC"]},"legend":null}}},
   {"data":{"name":"rightStack"},"transform":[{"filter":"datum.comp === 'qq'"}],
    "mark":{"type":"area","interpolate":"step-after","stroke":"black","strokeWidth":1,"clip":true},
    "encoding":{"x":{"field":"x","type":"quantitative","axis":null},"y":{"field":"y","type":"quantitative","axis":null},"y2":{"datum":0},
     "fill":{"field":"comp","type":"nominal","scale":{"domain":["pp","kk","qq","fsr"],"range":["#F5A800","#00A07E","#005CFF","#8200CC"]},"legend":null}}},
   {"data":{"name":"rightStack"},"transform":[{"filter":"datum.comp === 'fsr'"}],
    "mark":{"type":"area","interpolate":"step-after","stroke":"black","strokeWidth":1,"clip":true},
    "encoding":{"x":{"field":"x","type":"quantitative","axis":null},"y":{"field":"y","type":"quantitative","axis":null},"y2":{"datum":0},
     "fill":{"field":"comp","type":"nominal","scale":{"domain":["pp","kk","qq","fsr"],"range":["#F5A800","#00A07E","#005CFF","#8200CC"]},"legend":null}}},
   {"data":{"name":"rightData"},
    "mark":{"type":"rule","strokeWidth":2,"color":"black","clip":true},
    "encoding":{
     "x":{"field":"x","type":"quantitative","axis":{"orient":"bottom","values":[1.1,1.2,1.3,1.4,1.5,1.6,1.7,1.8,1.9,2.0,2.1,2.2,2.3,2.4,2.5,2.6,2.7,2.8,2.9,3.0,3.1,3.2,3.3,3.4,3.5],"labels":false,"tickSize":-8,"title":null}},
     "y":{"field":"lo","type":"quantitative","axis":{"orient":"left","values":[20,40,60,80,120,140,160,180,220,240,260,280,320,340,360,380,420,440,460,480,520],"labels":false,"tickSize":-7,"title":null}},
     "y2":{"field":"hi"}}},
   {"data":{"name":"rightData"},
    "mark":{"type":"point","shape":"circle","filled":false,"fill":"white","fillOpacity":1,"size":26,"strokeWidth":1,"clip":true},
    "encoding":{"x":{"field":"x","type":"quantitative","axis":null},"y":{"field":"y","type":"quantitative","axis":null},
     "stroke":{"datum":"Data","type":"nominal","scale":{"range":["black"]},
      "legend":{"orient":"none","legendX":270,"legendY":26.8,"title":null,"symbolType":"M0,-1L0,-0.36M0,0.36L0,1M0.33,0A0.33,0.33,0,1,1,-0.33,0A0.33,0.33,0,1,1,0.33,0Z","symbolSize":225,"symbolFillColor":"white","symbolStrokeWidth":1.5,"labelOffset":11}}}},
   {"data":{"values":[{}]},"mark":{"type":"text","text":"Belle II","fontSize":25,"fontWeight":"bold","fontStyle":"italic","align":"left","baseline":"alphabetic","color":"black"},
    "encoding":{"x":{"datum":1.149,"type":"quantitative","axis":null},"y":{"datum":487.6,"type":"quantitative","axis":null}}},
   {"data":{"values":[{}]},"mark":{"type":"text","text":"Preliminary","fontSize":25,"align":"left","baseline":"alphabetic","color":"black"},
    "encoding":{"x":{"datum":1.588,"type":"quantitative","axis":null},"y":{"datum":487.6,"type":"quantitative","axis":null}}},
   {"data":{"values":[{}]},"mark":{"type":"text","text":"∫Ldt = 191 fb⁻¹","fontSize":25,"align":"left","baseline":"alphabetic","color":"black"},
    "encoding":{"x":{"datum":1.144,"type":"quantitative","axis":null},"y":{"datum":449.7,"type":"quantitative","axis":null}}}
  ]
 }
]
}
